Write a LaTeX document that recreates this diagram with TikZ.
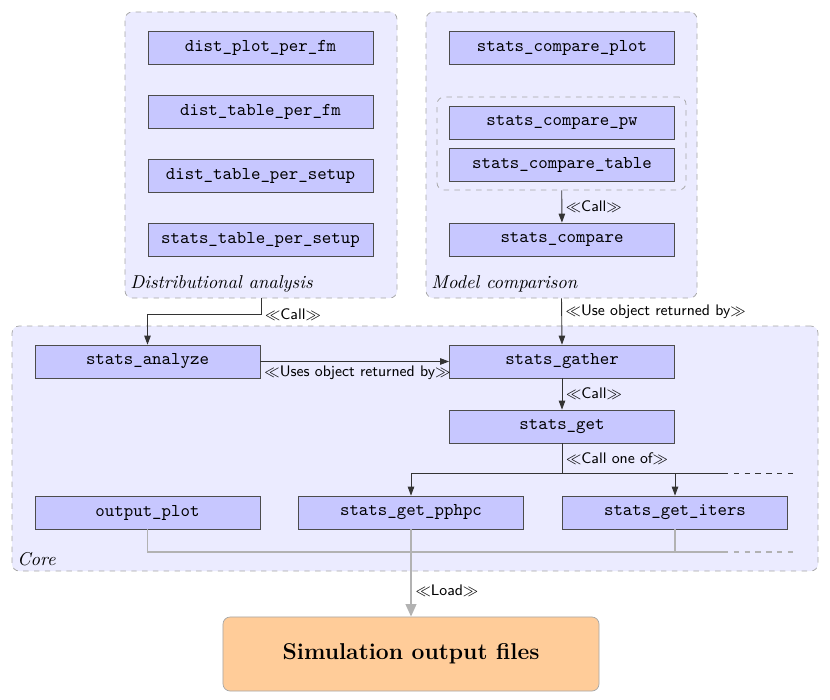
\documentclass[tikz,border=0pt]{standalone}
\usepackage{amsmath}
\usepackage{tikz}
\usetikzlibrary{arrows.meta, fit}
\usepackage{xcolor}

\tikzset{
  fn/.style={draw=black!70, fill=blue!22, minimum width=124.9pt, minimum height=18.3pt,
    inner sep=0pt, font=\ttfamily},
  grp/.style={draw=black!35, dashed, fill=blue!8, rounded corners=4pt, inner sep=0pt},
  grplbl/.style={anchor=south west, inner sep=3pt, font=\fontsize{10.3}{12}\selectfont\itshape},
  lbl/.style={inner sep=2pt, text=black, font=\fontsize{8.5}{10}\selectfont\sffamily},
  call/.style={draw=black!80, line width=0.5pt, -{Triangle[length=5pt,width=3.6pt]}},
  gline/.style={draw=black!30, line width=1pt},
  load/.style={gline, -{Triangle[length=7pt,width=6pt]}}
}

\begin{document}
\begin{tikzpicture}[x=0.555pt, y=-0.555pt]
    \useasboundingbox (0,0) rectangle (830,700);
    % Grupos
    \node[grp, fit={(125,12) (397,298)}] (dist) {};
    \node[grplbl] (distlbl) at (dist.south west) {Distributional analysis};
    \node[grp, fit={(426,12) (697,298)}] (model) {};
    \node[grplbl] (modellbl) at (model.south west) {Model comparison};
    \node[grp, fit={(437,97) (686,190)}] (pairs) {};
    \node[grp, fit={(12,326) (818,571)}] (core) {};
    \node[grplbl] (corelbl) at (core.south west) {Core};
    % Funções
    \node[fn] (distplot) at (260.5,47.5) {dist\_plot\_per\_fm};
    \node[fn] (disttabfm) at (260.5,111.5) {dist\_table\_per\_fm};
    \node[fn] (disttabsetup) at (260.5,175.5) {dist\_table\_per\_setup};
    \node[fn] (statstabsetup) at (260.5,239.5) {stats\_table\_per\_setup};
    \node[fn] (cmpplot) at (562,47.5) {stats\_compare\_plot};
    \node[fn] (cmppw) at (562,122.5) {stats\_compare\_pw};
    \node[fn] (cmptab) at (562,164.5) {stats\_compare\_table};
    \node[fn] (cmp) at (562,239.5) {stats\_compare};
    \node[fn] (analyze) at (147.5,361.5) {stats\_analyze};
    \node[fn] (gather) at (562,361.5) {stats\_gather};
    \node[fn] (get) at (562,426.5) {stats\_get};
    \node[fn] (outplot) at (147.5,512.5) {output\_plot};
    \node[fn] (pphpc) at (411,512.5) {stats\_get\_pphpc};
    \node[fn] (iters) at (675,512.5) {stats\_get\_iters};
    % Ficheiros
    \node[draw=black!35, fill=orange!40, rounded corners=4pt, minimum width=208.7pt,
      minimum height=41.1pt, font=\fontsize{12.7}{15}\selectfont\bfseries] (files) at (411,654) {Simulation output files};
    % Chamadas
    \draw[call] (pairs) -- (cmp) node[lbl, midway, anchor=west] {$\ll$Call$\gg$};
    \draw[call] (dist.south) -- ++(0,16) node[lbl, anchor=west] {$\ll$Call$\gg$} -| (analyze.north);
    \draw[call] (model.south) -- (gather.north) node[lbl, pos=0.3, anchor=west] {$\ll$Use object returned by$\gg$};
    \draw[call] (analyze.east) -- (gather.west) node[lbl, pos=0, anchor=north west] {$\ll$Uses object returned by$\gg$};
    \draw[call] (gather) -- (get) node[lbl, midway, anchor=west] {$\ll$Call$\gg$};
    \draw[black!80, line width=0.5pt] (get.south) -- ++(0,30) coordinate (split)
      node[lbl, midway, anchor=west] {$\ll$Call one of$\gg$};
    \draw[call] (split) -| (pphpc.north);
    \draw[call] (split) -| (iters.north);
    \draw[black!80, line width=0.5pt] (split) -- ++(161,0) coordinate (splitend);
    \draw[black!80, line width=0.5pt, dashed] (splitend) -- ++(72,0);
    % Leitura
    \coordinate (collect) at (723,552);
    \draw[gline] (outplot.south) |- (collect);
    \draw[gline, dashed] (collect) -- ++(72,0);
    \draw[gline] (iters.south) -- (iters.south |- collect);
    \draw[load] (pphpc.south) -- (files.north) node[lbl, pos=0.7, anchor=west] {$\ll$Load$\gg$};
\end{tikzpicture}
\end{document}
